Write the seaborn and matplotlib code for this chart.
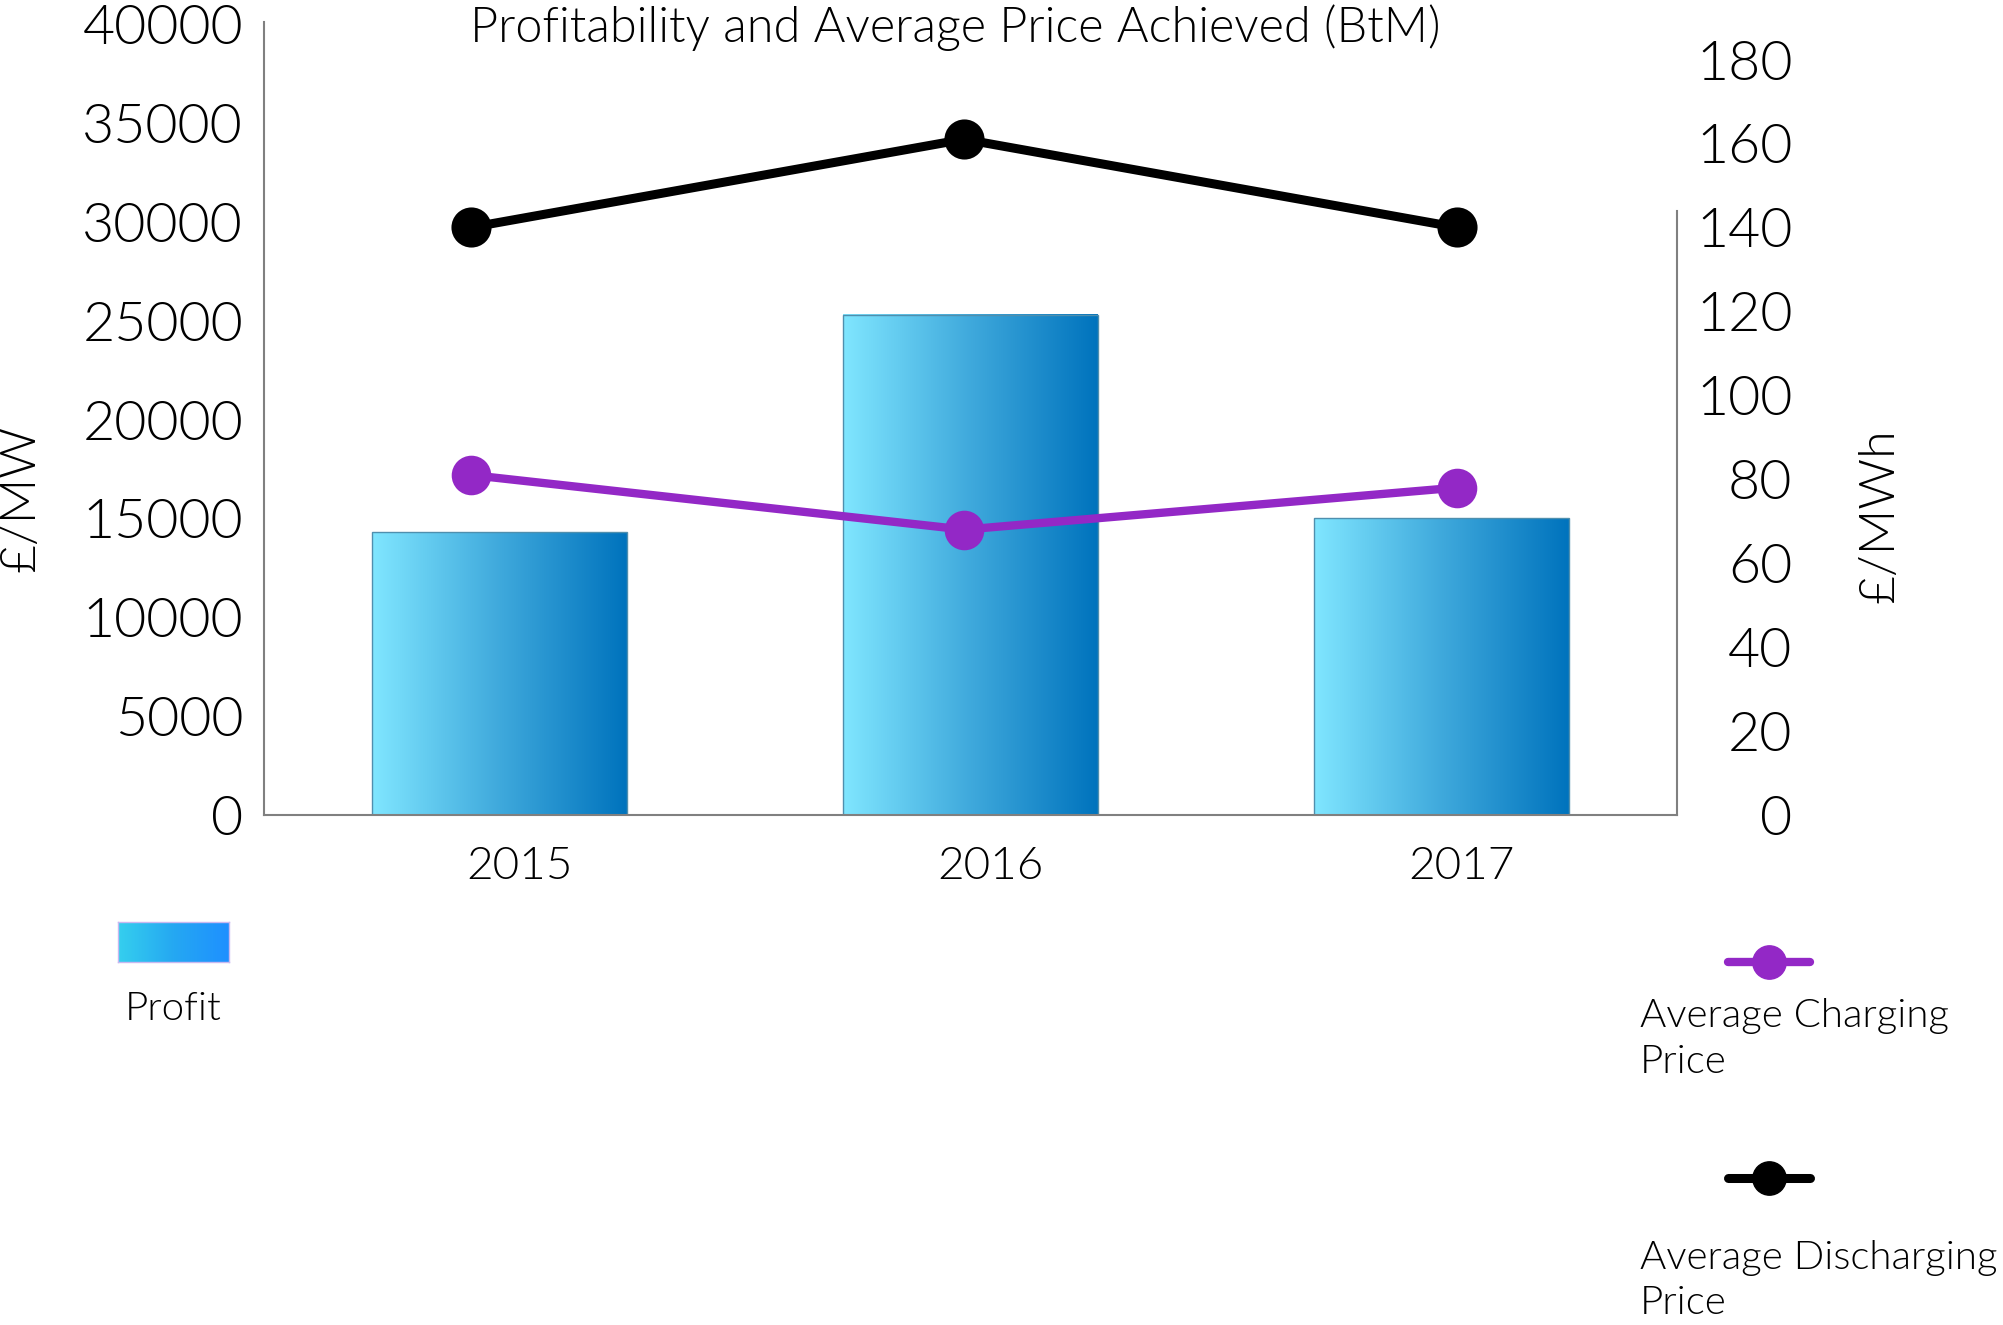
import numpy as np
import matplotlib
matplotlib.use('Agg')
import matplotlib.pyplot as plt
import matplotlib.transforms as mtransforms
from matplotlib.colors import LinearSegmentedColormap
from matplotlib.lines import Line2D
import seaborn as sns

# data
years = ['2015', '2016', '2017']
profit = [14300, 25300, 15000]          # £/MW, left axis
charging = [81, 68, 78]                 # £/MWh, right axis
discharging = [140, 161, 140]           # £/MWh, right axis

sns.set_style('white')
plt.rcParams['font.family'] = ['Lato', 'DejaVu Sans']
plt.rcParams['font.weight'] = 300
plt.rcParams['text.color'] = 'black'

fig = plt.figure(figsize=(20.03, 13.25), dpi=100)
pos = [0.1318, 0.3849, 0.7055, 0.5987]
ax = fig.add_axes(pos)

# bars, then a left-to-right gradient painted over each one
sns.barplot(x=years, y=profit, ax=ax, width=0.54, color='#3fa9dc',
            edgecolor='#4f8fae', linewidth=1, zorder=2)
bar_cmap = LinearSegmentedColormap.from_list('bar', ['#80e6ff', '#3fa9dc', '#0073bd'])
grad = np.linspace(0, 1, 256).reshape(1, -1)
for p in ax.patches:
    x0, y0 = p.get_xy()
    p.set_facecolor('none')
    ax.imshow(grad, extent=[x0, x0 + p.get_width(), y0, y0 + p.get_height()],
              aspect='auto', cmap=bar_cmap, zorder=1.9)

ax.set_xlim(-0.5, 2.5)
ax.set_ylim(0, 40120)
ax.set_yticks(range(0, 40001, 5000))
ax.tick_params(axis='y', labelsize=40, pad=15, length=0, colors='black')
ax.tick_params(axis='x', labelsize=33, pad=22, length=0, colors='black')
offset = mtransforms.ScaledTranslation(20 / 100, 0, fig.dpi_scale_trans)
for lbl in ax.get_xticklabels():
    lbl.set_transform(lbl.get_transform() + offset)
ax.set_xlabel('')
ax.set_ylabel('')
for side in ['top', 'right']:
    ax.spines[side].set_visible(False)
for side in ['left', 'bottom']:
    ax.spines[side].set_color('#808080')
    ax.spines[side].set_linewidth(1.5)

# price lines on an overlaid axes with its own right-hand scale
ax2 = fig.add_axes(pos)
ax2.patch.set_visible(False)
sns.pointplot(x=years, y=discharging, ax=ax2, color='black', markers='o',
              markersize=24, linewidth=6.5, errorbar=None)
sns.pointplot(x=years, y=charging, ax=ax2, color='#9328c6', markers='o',
              markersize=24, linewidth=6, errorbar=None)
ax2.set_xlim(-0.42, 2.446)
ax2.set_ylim(0, 189)
ax2.set_xticks([])
ax2.yaxis.tick_right()
ax2.set_yticks(range(0, 181, 20))
ax2.tick_params(axis='y', labelsize=40, pad=83, length=0, colors='black')
for lbl in ax2.get_yticklabels():
    lbl.set_horizontalalignment('right')
ax2.set_xlabel('')
ax2.set_ylabel('')
for side in ['top', 'left', 'bottom']:
    ax2.spines[side].set_visible(False)
ax2.spines['right'].set_visible(True)
ax2.spines['right'].set_color('#808080')
ax2.spines['right'].set_linewidth(1.5)
ax2.spines['right'].set_bounds(0, 144)

fig.text(0.4768, 0.979, 'Profitability and Average Price Achieved (BtM)',
         ha='center', va='center', fontsize=35)
fig.text(0.0105, 0.624, '£/MW', rotation=90, ha='center', va='center', fontsize=36)
fig.text(0.9386, 0.611, '£/MWh', rotation=90, ha='center', va='center', fontsize=36)

# legend, laid out by hand: symbol above label
leg_ax = fig.add_axes([0.0589, 0.274, 0.0554, 0.0302])
leg_cmap = LinearSegmentedColormap.from_list('leg', ['#35cfee', '#25a8f2', '#1e90ff'])
leg_ax.imshow(grad, aspect='auto', cmap=leg_cmap)
leg_ax.set_xticks([])
leg_ax.set_yticks([])
for s in leg_ax.spines.values():
    s.set_color('#c8b8f0')
    s.set_linewidth(1)
fig.text(0.0864, 0.2385, 'Profit', ha='center', va='center', fontsize=29)

fig.add_artist(Line2D([0.8627, 0.9037], [0.274, 0.274], color='#9328c6', lw=6))
fig.add_artist(Line2D([0.8832], [0.274], color='#9328c6', marker='o', markersize=24, lw=0))
fig.text(0.8188, 0.2465, 'Average Charging\nPrice', ha='left', va='top', fontsize=29,
         linespacing=1.34)
fig.add_artist(Line2D([0.8627, 0.9037], [0.111, 0.111], color='black', lw=6.5))
fig.add_artist(Line2D([0.8832], [0.111], color='black', marker='o', markersize=24, lw=0))
fig.text(0.8188, 0.0645, 'Average Discharging\nPrice', ha='left', va='top', fontsize=29,
         linespacing=1.34)

fig.savefig('out.png', dpi=100)
